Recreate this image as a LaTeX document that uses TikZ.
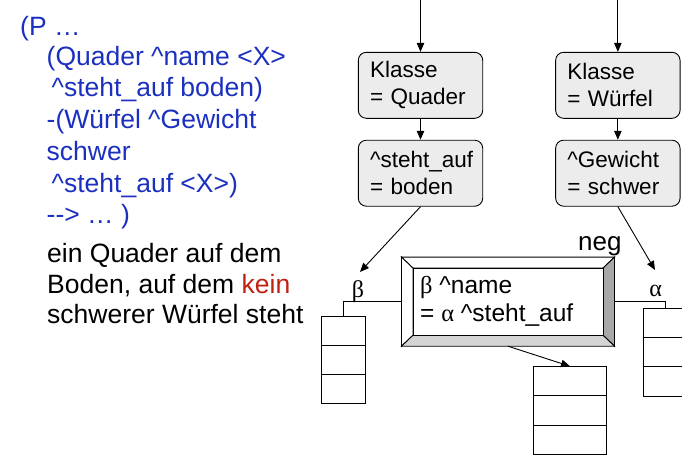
\documentclass[tikz,border=0pt]{standalone}
\usepackage{fontspec}
\setmainfont{Liberation Sans}
\newfontfamily\grk{Liberation Serif}
\usetikzlibrary{arrows.meta,calc}
\definecolor{codeblue}{RGB}{28,48,192}
\definecolor{keinred}{RGB}{192,32,16}
\definecolor{boxgray}{RGB}{236,236,236}
\definecolor{bevdark}{RGB}{168,168,168}
\definecolor{bevmid}{RGB}{212,212,212}
\begin{document}
\begin{tikzpicture}[x=1pt,y=-1pt,
  ln/.style={line width=0.9pt},
  arr/.style={ln,-{Triangle[length=9pt,width=7.5pt]}},
  codeline/.style={anchor=base west,inner sep=0pt,font=\fontsize{26.5}{31}\selectfont,text=codeblue},
  plainline/.style={anchor=base west,inner sep=0pt,font=\fontsize{26.5}{31}\selectfont,text=black},
  attrbox/.style={draw,ln,fill=boxgray,rounded corners=8pt,minimum width=124.4pt,minimum height=66pt,
    inner xsep=11.7pt,inner ysep=0pt,text width=101pt,align=left,font=\fontsize{22.5}{27}\selectfont},
  stackbox/.style={draw,ln,fill=white,inner sep=0pt},
  greeklabel/.style={anchor=base,inner sep=0pt,font=\grk\fontsize{24}{28}\selectfont},
  negtext/.style={anchor=base west,inner sep=0pt,font=\fontsize{24.5}{29}\selectfont}
]
\useasboundingbox (0,0) rectangle (682,455);

% left text
\node[codeline] (l1) at (20,35) {(P …};
\node[codeline] (l2) at (46.5,65) {(Quader \textasciicircum name <X>};
\node[codeline] (l3) at (46.5,96) {\hspace{5pt}\textasciicircum steht\_auf boden)};
\node[codeline] (l4) at (46.5,128) {-(Würfel \textasciicircum Gewicht};
\node[codeline] (l5) at (46.5,160) {schwer};
\node[codeline] (l6) at (46.5,192) {\hspace{5pt}\textasciicircum steht\_auf <X>)};
\node[codeline] (l7) at (46.5,223) {\mbox{-}\mbox{-}> … )};
\node[plainline] (l8) at (47,262) {ein Quader auf dem};
\node[plainline] (l9) at (47,293) {Boden, auf dem \textcolor{keinred}{kein}};
\node[plainline] (l10) at (47,323) {schwerer Würfel steht};

% attribute boxes
\node[attrbox] (k1) at (420.5,85.3) {Klasse\\= Quader};
\node[attrbox] (a1) at (420.5,173.2) {\textasciicircum steht\_auf\\= boden};
\node[attrbox] (k2) at (617.85,85.3) {Klasse\\= Würfel};
\node[attrbox] (a2) at (617.85,173.2) {\textasciicircum Gewicht\\= schwer};

\coordinate (t1) at (420.5,0);
\coordinate (t2) at (617.85,0);
\draw[arr] (t1) -- (k1.north);
\draw[arr] (k1.south) -- (a1.north);
\draw[arr] (t2) -- (k2.north);
\draw[arr] (k2.south) -- (a2.north);

% negated beveled box
\node[inner sep=0pt,minimum width=212.6pt,minimum height=88.7pt] (neg) at (508,301.65) {};
\coordinate (inw) at ($(neg.north west)+(11.5,11)$);
\coordinate (ine) at ($(neg.north east)+(-11.5,11)$);
\coordinate (isw) at ($(neg.south west)+(11.5,-11)$);
\coordinate (ise) at ($(neg.south east)+(-11.5,-11)$);
\draw[ln,fill=white] (neg.north west) -- (neg.north east) -- (ine) -- (inw) -- cycle;
\draw[ln,fill=white] (neg.north west) -- (inw) -- (isw) -- (neg.south west) -- cycle;
\draw[ln,fill=bevdark] (neg.north east) -- (neg.south east) -- (ise) -- (ine) -- cycle;
\draw[ln,fill=bevmid] (neg.south west) -- (isw) -- (ise) -- (neg.south east) -- cycle;
\draw[ln,fill=white] (inw) rectangle (ise);
\node[negtext] (n1) at (420,293) {{\grk β} \textasciicircum name};
\node[negtext] (n2) at (420,321.7) {= {\grk α} \textasciicircum steht\_auf};
\node[anchor=base west,inner sep=0pt,font=\fontsize{26}{30}\selectfont] (neglabel) at (578,250) {neg};

% stacks
\node[stackbox,minimum width=43.3pt,minimum height=86.6pt] (lstack) at (343.35,360) {};
\node[stackbox,minimum width=44.8pt,minimum height=87.7pt] (rstack) at (665.7,352.15) {};
\node[stackbox,minimum width=73.4pt,minimum height=87.8pt] (bstack) at (570,410.6) {};
\foreach \s in {lstack,rstack,bstack}{
  \draw[ln] ($(\s.north west)!1/3!(\s.south west)$) -- ($(\s.north east)!1/3!(\s.south east)$);
  \draw[ln] ($(\s.north west)!2/3!(\s.south west)$) -- ($(\s.north east)!2/3!(\s.south east)$);
}

% labels
\node[greeklabel] (beta) at (358,297) {β};
\node[greeklabel] (alpha) at (655.7,296.7) {α};

% connectors
\coordinate (btip) at (360,272);
\coordinate (atip) at (655,270);
\draw[arr] (a1.south) -- (btip);
\draw[arr] (a2.south) -- (atip);
\draw[ln] (neg.west) -| (lstack.north);
\draw[ln] (neg.east) -| (rstack.north);
\draw[arr] (neg.south) -- (bstack.north);
\end{tikzpicture}
\end{document}
